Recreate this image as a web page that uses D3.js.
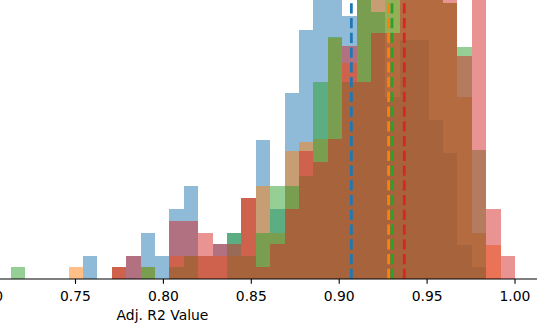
<!DOCTYPE html>
<html>
<head>
<meta charset="utf-8">
<script src="https://cdn.jsdelivr.net/npm/d3@7"></script>
<style>
	html, body { margin: 0; padding: 0; background: white; }
	svg { display: block; }
</style>
</head>
<body>
<svg id="chart"></svg>
<script>
let width = 537;
let height = 330;

// shared histogram bins (35 bins)
const binStart = 0.7136;
const binWidth = 0.00819;

// counts per bin, one array per model
const blueCounts = [0, 0, 0, 0, 0, 2, 0, 1, 2, 4, 2, 6, 8, 2, 3, 4, 7, 12, 6, 16,
	21.5, 26, 28, 22.7, 27, 26, 15.7, 20.6, 20.6, 13.7, 10.9, 2.9, 1, 0, 0];
const orangeCounts = [0, 0, 0, 0, 1, 0, 0, 1, 0, 1, 0, 2, 2, 2, 2, 2, 7, 8, 4, 11,
	11.8, 12.1, 20.8, 18.6, 26, 27, 30, 32, 33, 30, 23.8, 15.7, 4, 2.9, 0];
const greenCounts = [1, 0, 0, 0, 0, 0, 0, 0, 0, 1, 0, 1, 2, 0, 0, 4, 2, 4, 8, 8,
	8.9, 17, 20.9, 17, 25.5, 23, 28, 30, 29, 28, 23.8, 20, 11.1, 0, 0];
const redCounts = [0, 0, 0, 0, 0, 0, 0, 1, 2, 0, 0, 5, 5, 4, 3, 3, 7, 1, 3, 6,
	11, 10.1, 12.1, 20.1, 17, 21.2, 21.2, 28, 30, 27, 25, 19.2, 30, 6, 2];

const seriesColors = ["#1f77b4", "#ff7f0e", "#2ca02c", "#d62728"];
const seriesMeans = [0.9072, 0.9284, 0.9303, 0.9373];
const xTicks = [0.7, 0.75, 0.8, 0.85, 0.9, 0.95, 1.0];
const xLabel = "Adj. R2 Value";

function draw() {
	const series = [blueCounts, orangeCounts, greenCounts, redCounts].map((counts, k) => {
		return counts.map((c, i) => {
			return {
				x0: binStart + i * binWidth,
				x1: binStart + (i + 1) * binWidth,
				value: c,
				color: seriesColors[k],
			};
		});
	});

	const x = d3.scaleLinear().domain([0.7, 1.0]).range([-12.9, 514.5]);
	const y = d3.scaleLinear().domain([0, 24.05]).range([279, 0]);

	const svg = d3.select("#chart");
	svg.selectAll("*").remove();
	svg.attr("width", width).attr("height", height);

	const plot = svg.append("g");

	// histograms, drawn in order so alpha blending stacks like matplotlib
	series.forEach((bins) => {
		plot
			.append("g")
			.selectAll("rect")
			.data(bins.filter((d) => d.value > 0))
			.enter()
			.append("rect")
			.attr("x", (d) => x(d.x0))
			.attr("y", (d) => y(d.value))
			.attr("width", (d) => x(d.x1) - x(d.x0))
			.attr("height", (d) => y(0) - y(d.value))
			.attr("fill", (d) => d.color)
			.attr("fill-opacity", 0.5)
			.attr("shape-rendering", "crispEdges");
	});

	// mean lines
	plot
		.append("g")
		.selectAll("line")
		.data(seriesMeans)
		.enter()
		.append("line")
		.attr("x1", (d) => x(d))
		.attr("x2", (d) => x(d))
		.attr("y1", y(0))
		.attr("y2", 0)
		.style("stroke", (d, i) => seriesColors[i])
		.style("stroke-width", 2.78)
		.style("stroke-dasharray", "10.3,4.45");

	// x axis
	const axis = svg
		.append("g")
		.attr("transform", "translate(0," + y(0) + ")")
		.call(
			d3
				.axisBottom(x)
				.tickValues(xTicks)
				.tickFormat(d3.format(".2f"))
				.tickSize(4.86)
				.tickPadding(7.2)
		);
	axis.select(".domain").remove();
	axis.selectAll(".tick line").attr("stroke", "#000").attr("stroke-width", 1.1);
	axis
		.selectAll(".tick text")
		.attr("fill", "#000")
		.style("font-family", "DejaVu Sans")
		.style("font-size", "13.9px");

	svg
		.append("line")
		.attr("x1", 0)
		.attr("x2", width)
		.attr("y1", y(0))
		.attr("y2", y(0))
		.style("stroke", "#000")
		.style("stroke-width", 1.1);

	svg
		.append("text")
		.attr("x", 162.5)
		.attr("y", 319.5)
		.attr("text-anchor", "middle")
		.style("font-family", "DejaVu Sans")
		.style("font-size", "13.9px")
		.attr("fill", "#000")
		.text(xLabel);
}

draw();
</script>
</body>
</html>
